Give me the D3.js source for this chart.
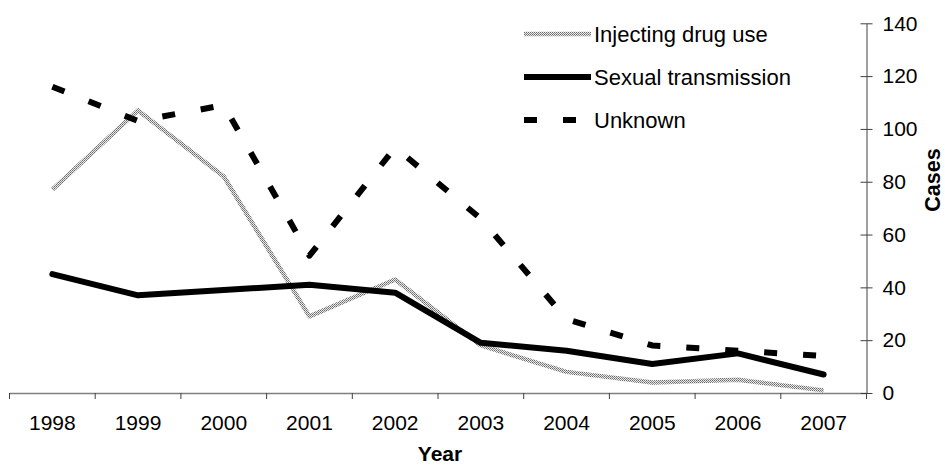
<!DOCTYPE html>
<html>
<head>
<meta charset="utf-8">
<script src="https://cdn.jsdelivr.net/npm/d3@7"></script>
<style>
  html, body { margin: 0; padding: 0; background: #fff; }
  svg { display: block; font-family: Arial, "Liberation Sans", sans-serif; }
</style>
</head>
<body>
<svg id="chart" width="945" height="466"></svg>
<script>
const years = ["1998","1999","2000","2001","2002","2003","2004","2005","2006","2007"];
const injectingDrugUse = [77, 107, 82, 29, 43, 18, 8, 4, 5, 1];
const sexualTransmission = [45, 37, 39, 41, 38, 19, 16, 11, 15, 7];
const unknown = [116, 103, 109, 52, 93, 66, 28, 18, 16, 14];
const yTicks = [0, 20, 40, 60, 80, 100, 120, 140];
const seriesNames = ["Injecting drug use", "Sexual transmission", "Unknown"];

const svg = d3.select("#chart");
const defs = svg.append("defs");
const pat = defs.append("pattern").attr("id", "halftone")
  .attr("patternUnits", "userSpaceOnUse").attr("width", 2).attr("height", 2);
pat.append("rect").attr("width", 2).attr("height", 2).attr("fill", "#e8e8e8");
pat.append("rect").attr("x", 0).attr("y", 0).attr("width", 1).attr("height", 1).attr("fill", "#6a6a6a");
pat.append("rect").attr("x", 1).attr("y", 1).attr("width", 1).attr("height", 1).attr("fill", "#8a8a8a");

const x = d3.scaleBand().domain(years).range([9.5, 866.5]).padding(0);
const y = d3.scaleLinear().domain([0, 140]).range([393, 23.3]);
const cx = d => x(d) + x.bandwidth() / 2;

const FS = 21;

// X axis
const xAxis = svg.append("g").attr("transform", "translate(0,393)")
  .call(d3.axisBottom(x).tickSize(0).tickPadding(22));
xAxis.select(".domain").attr("stroke", "#808080").attr("stroke-width", 1.5);
xAxis.selectAll("text").attr("font-size", FS).attr("fill", "#000")
  .attr("font-family", "Arial, 'Liberation Sans', sans-serif");
const bounds = years.map(d => x(d)).concat([x.range()[1]]);
xAxis.selectAll("line.bnd").data(bounds).join("line").attr("class", "bnd")
  .attr("x1", d => d).attr("x2", d => d).attr("y1", 0).attr("y2", 6)
  .attr("stroke", "#404040").attr("stroke-width", 1);

// Y axis (right)
const yAxis = svg.append("g").attr("transform", "translate(866.5,0)")
  .call(d3.axisRight(y).tickValues(yTicks).tickSize(0).tickPadding(16));
yAxis.select(".domain").attr("stroke", "#808080").attr("stroke-width", 1.5);
yAxis.selectAll(".tick").append("line").attr("x1", -6).attr("x2", 6)
  .attr("stroke", "#404040").attr("stroke-width", 1);
yAxis.selectAll("text").attr("font-size", FS).attr("fill", "#000")
  .attr("font-family", "Arial, 'Liberation Sans', sans-serif");

// Axis titles
svg.append("text").attr("x", 440).attr("y", 461).attr("text-anchor", "middle")
  .attr("font-size", FS).attr("font-weight", "bold").text("Year");
svg.append("text").attr("transform", "translate(940,180) rotate(-90)")
  .attr("text-anchor", "middle").attr("font-size", 21.5).attr("font-weight", "bold").text("Cases");

// Lines
const line = d3.line().x((d, i) => cx(years[i])).y(d => y(d));
const styles = [
  { data: injectingDrugUse, stroke: "url(#halftone)", width: 4.5, dash: null, cap: "butt" },
  { data: sexualTransmission, stroke: "#000", width: 6, dash: null, cap: "round" },
  { data: unknown, stroke: "#000", width: 6, dash: "13,26", cap: "butt" }
];
styles.forEach(s => {
  svg.append("path").datum(s.data).attr("d", line)
    .attr("fill", "none").attr("stroke", s.stroke).attr("stroke-width", s.width)
    .attr("stroke-linejoin", "round").attr("stroke-linecap", s.cap)
    .attr("stroke-dasharray", s.dash);
});

// Legend
const legend = svg.append("g");
seriesNames.forEach((name, i) => {
  const ly = 34 + i * 43;
  const s = styles[i];
  legend.append("line").attr("x1", 524).attr("x2", 591).attr("y1", ly).attr("y2", ly)
    .attr("stroke", s.stroke).attr("stroke-width", s.width)
    .attr("stroke-dasharray", s.dash).attr("stroke-linecap", "butt");
  legend.append("text").attr("x", 594).attr("y", ly + 8)
    .attr("font-size", 22).attr("fill", "#000").text(name);
});
</script>
</body>
</html>
